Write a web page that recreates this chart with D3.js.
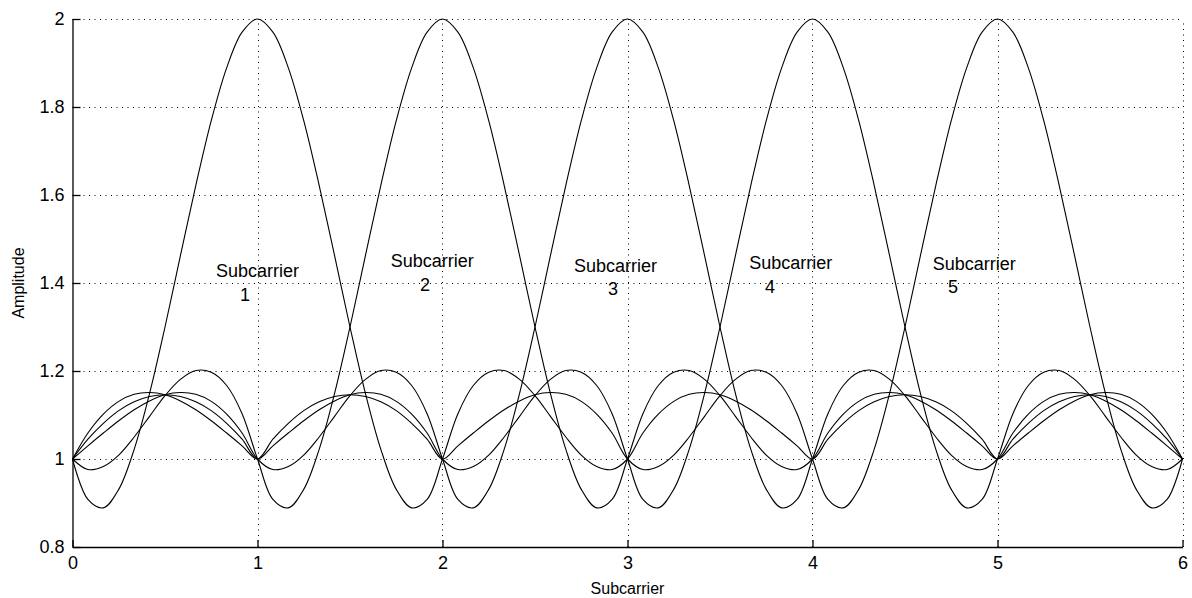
<!DOCTYPE html>
<html><head><meta charset="utf-8">
<script src="https://cdn.jsdelivr.net/npm/d3@7"></script>
<style>
body{margin:0;background:#fff}
svg{display:block}
text{font-family:"Liberation Sans", Arial, Helvetica, sans-serif;fill:#000}
</style>
</head><body>
<svg id="chart" width="1192" height="598"></svg>
<script>
// ---- data ----
const xTicks = [0, 1, 2, 3, 4, 5, 6];
const xTickLabels = ["0", "1", "2", "3", "4", "5", "6"];
const yTicks = [0.8, 1, 1.2, 1.4, 1.6, 1.8, 2];
const yTickLabels = ["0.8", "1", "1.2", "1.4", "1.6", "1.8", "2"];
// samples every 1/12 subcarrier from 0 to 6
const sampleX = d3.range(0, 73).map(i => i / 12);

const sub1 = [1, 0.908, 0.889, 0.931, 1.022, 1.149, 1.300, 1.462, 1.622, 1.769, 1.889, 1.970, 2,
  1.970, 1.889, 1.769, 1.622, 1.462, 1.300, 1.149, 1.022, 0.931, 0.889, 0.908, 1,
  1.103, 1.167, 1.197, 1.201, 1.181, 1.144, 1.097, 1.050, 1.009, 0.983, 0.976, 1,
  1.059, 1.102, 1.131, 1.147, 1.151, 1.146, 1.132, 1.112, 1.087, 1.059, 1.030, 1,
  1.045, 1.081, 1.110, 1.130, 1.142, 1.146, 1.142, 1.130, 1.110, 1.081, 1.045, 1,
  1.030, 1.059, 1.087, 1.112, 1.132, 1.146, 1.151, 1.147, 1.131, 1.102, 1.059, 1];

const sub2 = [1, 0.976, 0.983, 1.009, 1.050, 1.097, 1.144, 1.181, 1.201, 1.197, 1.167, 1.103, 1,
  0.908, 0.889, 0.931, 1.022, 1.149, 1.300, 1.462, 1.622, 1.769, 1.889, 1.970, 2,
  1.970, 1.889, 1.769, 1.622, 1.462, 1.300, 1.149, 1.022, 0.931, 0.889, 0.908, 1,
  1.103, 1.167, 1.197, 1.201, 1.181, 1.144, 1.097, 1.050, 1.009, 0.983, 0.976, 1,
  1.059, 1.102, 1.131, 1.147, 1.151, 1.146, 1.132, 1.112, 1.087, 1.059, 1.030, 1,
  1.045, 1.081, 1.110, 1.130, 1.142, 1.146, 1.142, 1.130, 1.110, 1.081, 1.045, 1];

const sub3 = [1, 1.030, 1.059, 1.087, 1.112, 1.132, 1.146, 1.151, 1.147, 1.131, 1.102, 1.059, 1,
  0.976, 0.983, 1.009, 1.050, 1.097, 1.144, 1.181, 1.201, 1.197, 1.167, 1.103, 1,
  0.908, 0.889, 0.931, 1.022, 1.149, 1.300, 1.462, 1.622, 1.769, 1.889, 1.970, 2,
  1.970, 1.889, 1.769, 1.622, 1.462, 1.300, 1.149, 1.022, 0.931, 0.889, 0.908, 1,
  1.103, 1.167, 1.197, 1.201, 1.181, 1.144, 1.097, 1.050, 1.009, 0.983, 0.976, 1,
  1.059, 1.102, 1.131, 1.147, 1.151, 1.146, 1.132, 1.112, 1.087, 1.059, 1.030, 1];

const sub4 = [1, 1.045, 1.081, 1.110, 1.130, 1.142, 1.146, 1.142, 1.130, 1.110, 1.081, 1.045, 1,
  1.030, 1.059, 1.087, 1.112, 1.132, 1.146, 1.151, 1.147, 1.131, 1.102, 1.059, 1,
  0.976, 0.983, 1.009, 1.050, 1.097, 1.144, 1.181, 1.201, 1.197, 1.167, 1.103, 1,
  0.908, 0.889, 0.931, 1.022, 1.149, 1.300, 1.462, 1.622, 1.769, 1.889, 1.970, 2,
  1.970, 1.889, 1.769, 1.622, 1.462, 1.300, 1.149, 1.022, 0.931, 0.889, 0.908, 1,
  1.103, 1.167, 1.197, 1.201, 1.181, 1.144, 1.097, 1.050, 1.009, 0.983, 0.976, 1];

const sub5 = [1, 1.059, 1.102, 1.131, 1.147, 1.151, 1.146, 1.132, 1.112, 1.087, 1.059, 1.030, 1,
  1.045, 1.081, 1.110, 1.130, 1.142, 1.146, 1.142, 1.130, 1.110, 1.081, 1.045, 1,
  1.030, 1.059, 1.087, 1.112, 1.132, 1.146, 1.151, 1.147, 1.131, 1.102, 1.059, 1,
  0.976, 0.983, 1.009, 1.050, 1.097, 1.144, 1.181, 1.201, 1.197, 1.167, 1.103, 1,
  0.908, 0.889, 0.931, 1.022, 1.149, 1.300, 1.462, 1.622, 1.769, 1.889, 1.970, 2,
  1.970, 1.889, 1.769, 1.622, 1.462, 1.300, 1.149, 1.022, 0.931, 0.889, 0.908, 1];

const seriesList = [sub1, sub2, sub3, sub4, sub5];

// annotation texts (data coordinates of left/baseline)
const annoWords = ["Subcarrier", "Subcarrier", "Subcarrier", "Subcarrier", "Subcarrier"];
const annoWordX = [0.776, 1.720, 2.711, 3.658, 4.650];
const annoWordY = [1.414, 1.436, 1.424, 1.431, 1.430];
const annoNums = ["1", "2", "3", "4", "5"];
const annoNumX = [0.905, 1.878, 2.895, 3.743, 4.732];
const annoNumY = [1.360, 1.3825, 1.373, 1.378, 1.377];

const xTitle = "Subcarrier";
const yTitle = "Amplitude";

// ---- drawing ----
const svg = d3.select("#chart");
const L = 72.5, R = 1182.5, T = 19, B = 547;
const x = d3.scaleLinear().domain([0, 6]).range([L, R]);
const y = d3.scaleLinear().domain([0.8, 2]).range([B, T]);

// grid
const grid = svg.append("g").attr("stroke", "#000").attr("stroke-width", 1)
  .attr("stroke-dasharray", "1,4.5");
xTicks.filter(v => v > 0).forEach(v => {
  grid.append("line").attr("x1", Math.round(x(v)) + 0.5).attr("x2", Math.round(x(v)) + 0.5)
    .attr("y1", B).attr("y2", T);
});
yTicks.filter(v => v > 0.8).forEach(v => {
  grid.append("line").attr("y1", Math.round(y(v)) + 0.5).attr("y2", Math.round(y(v)) + 0.5)
    .attr("x1", L).attr("x2", R);
});

// curves
const line = d3.line().x((d, i) => x(sampleX[i])).y(d => y(d)).curve(d3.curveCatmullRom.alpha(0.5));
svg.append("g").selectAll("path").data(seriesList).join("path")
  .attr("d", line).attr("fill", "none").attr("stroke", "#000").attr("stroke-width", 1.1);

// axes
const xAxis = d3.axisBottom(x).tickValues(xTicks).tickFormat((d, i) => xTickLabels[i])
  .tickSizeInner(-7).tickSizeOuter(0).tickPadding(9);
const yAxis = d3.axisLeft(y).tickValues(yTicks).tickFormat((d, i) => yTickLabels[i])
  .tickSizeInner(-8).tickSizeOuter(0).tickPadding(8);
const gx = svg.append("g").attr("transform", `translate(0,${B})`).call(xAxis);
const gy = svg.append("g").attr("transform", `translate(${L},0)`).call(yAxis);
[gx, gy].forEach(g => {
  g.select(".domain").attr("stroke", "#000").attr("stroke-width", 1.3);
  g.selectAll(".tick line").attr("stroke", "#000").attr("stroke-width", 1.3);
  g.selectAll(".tick text").attr("font-size", 18).attr("font-family", "Liberation Sans, Arial, sans-serif").attr("fill", "#000");
});

// annotations
const anno = svg.append("g").attr("font-size", 18);
annoWords.forEach((w, i) => {
  anno.append("text").attr("x", x(annoWordX[i])).attr("y", y(annoWordY[i])).text(w);
  anno.append("text").attr("x", x(annoNumX[i])).attr("y", y(annoNumY[i])).text(annoNums[i]);
});

// axis titles
svg.append("text").attr("x", x(3)).attr("y", 594).attr("text-anchor", "middle")
  .attr("font-size", 16).text(xTitle);
svg.append("text").attr("transform", `translate(24,${y(1.4)}) rotate(-90)`)
  .attr("text-anchor", "middle").attr("font-size", 16).text(yTitle);
</script>
</body></html>
